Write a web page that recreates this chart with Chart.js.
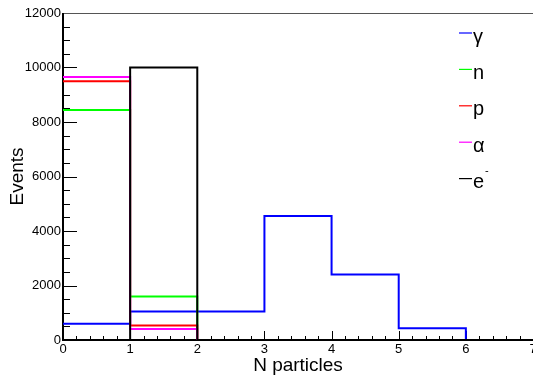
<!DOCTYPE html>
<html lang="en">
<head>
<meta charset="UTF-8">
<title>N particles</title>
<script src="https://cdn.jsdelivr.net/npm/chart.js"></script>
<style>
  body { margin: 0; background: #fff; }
  #wrap { width: 533px; height: 375px; }
</style>
</head>
<body>
<div id="wrap"><canvas id="nChart"></canvas></div>
<script>
// bin edges of the multiplicity histogram and counts per bin
const binEdges = [0, 1, 2, 3, 4, 5, 6, 7];
const gammaCounts = [600, 1050, 1050, 4550, 2400, 430, 0];
const neutronCounts = [8440, 1600, 0, 0, 0, 0, 0];
const protonCounts = [9500, 530, 0, 0, 0, 0, 0];
const alphaCounts = [9650, 400, 0, 0, 0, 0, 0];
const electronCounts = [0, 10000, 0, 0, 0, 0, 0];
const particleLabels = ['γ', 'n', 'p', 'α', 'e⁻'];
const xTickValues = [0, 1, 2, 3, 4, 5, 6, 7];
const yTickValues = [0, 2000, 4000, 6000, 8000, 10000, 12000];

const lineColors = ['#0000ff', '#00ff00', '#ff0000', '#ff00ff', '#000000'];
const font = 'Liberation Sans, Arial, DejaVu Sans, sans-serif';

// step outline: one point per bin low edge, plus the last edge
function histPoints(counts) {
    return binEdges.map((x, i) => ({ x: x, y: counts[Math.min(i, counts.length - 1)] }));
}

const allCounts = [gammaCounts, neutronCounts, protonCounts, alphaCounts, electronCounts];
const datasets = allCounts.map((counts, i) => ({
    label: particleLabels[i],
    data: histPoints(counts),
    stepped: 'before',
    borderColor: lineColors[i],
    borderWidth: 2,
    pointRadius: 0,
    fill: false,
    order: allCounts.length - 1 - i   // later histograms drawn on top
}));

// ROOT style frame: inward ticks, axis line, top border
const frameTicks = {
    id: 'frameTicks',
    beforeDatasetsDraw(chart) {
        const { ctx, chartArea: a, scales: { x, y } } = chart;
        ctx.save();
        ctx.strokeStyle = '#000';
        ctx.lineWidth = 1;
        ctx.beginPath();
        const yStep = yTickValues[1] - yTickValues[0];
        for (let v = y.min; v <= y.max + 1e-6; v += yStep / 4) {
            const py = Math.round(y.getPixelForValue(v)) + 0.5;
            const len = Math.abs(v % yStep) < 1e-6 ? 14 : 7;
            ctx.moveTo(a.left, py);
            ctx.lineTo(a.left + len, py);
        }
        const xStep = xTickValues[1] - xTickValues[0];
        for (let k = 0; k <= (x.max - x.min) / xStep * 5 + 1e-6; k++) {
            const v = x.min + k * xStep / 5;
            const px = Math.round(x.getPixelForValue(v)) + 0.5;
            const len = k % 5 === 0 ? 9 : 4;
            ctx.moveTo(px, a.bottom);
            ctx.lineTo(px, a.bottom - len);
        }
        ctx.stroke();
        ctx.strokeStyle = '#555';
        ctx.beginPath();
        ctx.moveTo(a.left, a.top + 0.5);
        ctx.lineTo(a.right, a.top + 0.5);
        ctx.stroke();
        ctx.strokeStyle = '#000';
        ctx.lineWidth = 2;
        ctx.beginPath();
        ctx.moveTo(a.left, a.top);
        ctx.lineTo(a.left, a.bottom);
        ctx.lineTo(a.right, a.bottom);
        ctx.stroke();
        ctx.restore();
    }
};

// legend box in the upper right corner
const histLegend = {
    id: 'histLegend',
    afterDraw(chart) {
        const ctx = chart.ctx;
        ctx.save();
        ctx.font = '20px ' + font;
        ctx.textBaseline = 'middle';
        ctx.textAlign = 'left';
        chart.data.datasets.forEach((ds, i) => {
            const cy = 33 + i * 36.4;
            ctx.strokeStyle = ds.borderColor;
            ctx.lineWidth = 1.2;
            ctx.beginPath();
            ctx.moveTo(459, cy);
            ctx.lineTo(472, cy);
            ctx.stroke();
            ctx.fillStyle = '#000';
            if (ds.label === 'e⁻') {
                ctx.fillText('e', 473, cy + 4);
                ctx.font = '11px ' + font;
                ctx.fillText('-', 485, cy - 8);
                ctx.font = '20px ' + font;
            } else {
                ctx.fillText(ds.label, 473, cy + 4);
            }
        });
        ctx.restore();
    }
};

new Chart(document.getElementById('nChart'), {
    type: 'line',
    data: { datasets: datasets },
    options: {
        responsive: true,
        maintainAspectRatio: false,
        animation: false,
        layout: { padding: { top: 13, right: 0, left: 0, bottom: 0 } },
        plugins: { legend: { display: false }, tooltip: { enabled: false } },
        scales: {
            x: {
                type: 'linear',
                min: 0,
                max: 7,
                grid: { display: false, drawTicks: false },
                border: { display: false },
                afterBuildTicks: s => { s.ticks = xTickValues.map(v => ({ value: v })); },
                afterFit: s => { s.height = 35; s.paddingLeft = 0; s.paddingRight = 0; },
                ticks: { color: '#000', font: { family: font, size: 13 }, padding: 2, maxRotation: 0, callback: v => String(v) },
                title: { display: true, text: 'N particles', color: '#000', font: { family: font, size: 19 }, padding: { top: 0, bottom: -2 } }
            },
            y: {
                min: 0,
                max: 12000,
                grid: { display: false, drawTicks: false },
                border: { display: false },
                afterBuildTicks: s => { s.ticks = yTickValues.map(v => ({ value: v })); },
                afterFit: s => { s.width = 63; },
                ticks: { color: '#000', font: { family: font, size: 13 }, padding: 2, callback: v => String(v) },
                title: { display: true, text: 'Events', color: '#000', font: { family: font, size: 19 }, padding: { top: 6, bottom: 0 } }
            }
        }
    },
    plugins: [frameTicks, histLegend]
});
</script>
</body>
</html>
